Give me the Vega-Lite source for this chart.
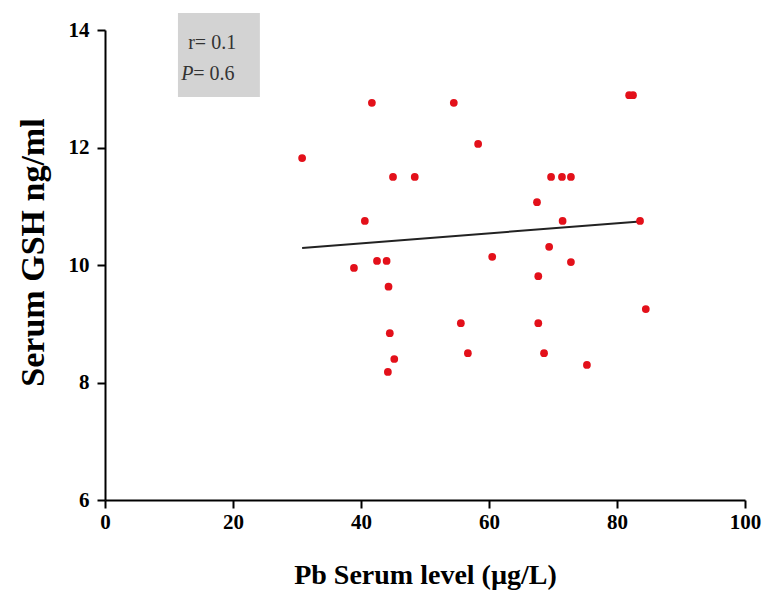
{
  "$schema": "https://vega.github.io/schema/vega-lite/v6.json",
  "autosize": {"type": "none"},
  "width": 640,
  "height": 470,
  "padding": {"left": 105, "top": 30, "right": 23, "bottom": 98},
  "background": "white",
  "config": {"view": {"stroke": null}, "font": "Liberation Serif"},
  "datasets": {
    "pts": [
      {"pb": 41.7, "gsh": 12.76},
      {"pb": 54.5, "gsh": 12.76},
      {"pb": 58.3, "gsh": 12.06},
      {"pb": 30.8, "gsh": 11.82},
      {"pb": 45.0, "gsh": 11.5},
      {"pb": 48.4, "gsh": 11.5},
      {"pb": 40.6, "gsh": 10.75},
      {"pb": 38.9, "gsh": 9.95},
      {"pb": 42.5, "gsh": 10.07},
      {"pb": 44.0, "gsh": 10.07},
      {"pb": 60.5, "gsh": 10.14},
      {"pb": 44.3, "gsh": 9.63},
      {"pb": 55.6, "gsh": 9.01},
      {"pb": 44.5, "gsh": 8.84},
      {"pb": 56.7, "gsh": 8.5},
      {"pb": 45.2, "gsh": 8.4},
      {"pb": 44.2, "gsh": 8.18},
      {"pb": 81.9, "gsh": 12.89},
      {"pb": 82.5, "gsh": 12.89},
      {"pb": 69.7, "gsh": 11.5},
      {"pb": 71.4, "gsh": 11.5},
      {"pb": 72.8, "gsh": 11.5},
      {"pb": 67.5, "gsh": 11.07},
      {"pb": 71.5, "gsh": 10.75},
      {"pb": 83.6, "gsh": 10.75},
      {"pb": 69.4, "gsh": 10.31},
      {"pb": 72.8, "gsh": 10.05},
      {"pb": 67.7, "gsh": 9.81},
      {"pb": 84.5, "gsh": 9.25},
      {"pb": 67.7, "gsh": 9.01},
      {"pb": 68.6, "gsh": 8.5},
      {"pb": 75.3, "gsh": 8.3}
    ],
    "fit": [
      {"pb": 30.8, "gsh": 10.29},
      {"pb": 83.6, "gsh": 10.74}
    ],
    "box": [{"x1": 11.4, "x2": 24.2, "y1": 12.86, "y2": 14.29}],
    "plain": [
      {"x": 13.0, "y": 13.78, "t": "r= 0.1"},
      {"x": 13.8, "y": 13.25, "t": "= 0.6"}
    ],
    "ital": [
      {"x": 11.9, "y": 13.25, "t": "P"}
    ]
  },
  "layer": [
    {
      "data": {"name": "box"},
      "mark": {"type": "rect", "color": "#d3d3d3", "clip": false},
      "encoding": {
        "x": {"field": "x1", "type": "quantitative", "scale": {"domain": [0, 100], "nice": false}},
        "x2": {"field": "x2"},
        "y": {"field": "y1", "type": "quantitative", "scale": {"domain": [6, 14], "nice": false}},
        "y2": {"field": "y2"}
      }
    },
    {
      "data": {"name": "plain"},
      "mark": {"type": "text", "align": "left", "baseline": "middle", "fontSize": 20, "color": "#333333", "font": "Liberation Serif", "clip": false},
      "encoding": {
        "x": {"field": "x", "type": "quantitative"},
        "y": {"field": "y", "type": "quantitative"},
        "text": {"field": "t"}
      }
    },
    {
      "data": {"name": "ital"},
      "mark": {"type": "text", "align": "left", "baseline": "middle", "fontSize": 20, "fontStyle": "italic", "color": "#333333", "font": "Liberation Serif", "clip": false},
      "encoding": {
        "x": {"field": "x", "type": "quantitative"},
        "y": {"field": "y", "type": "quantitative"},
        "text": {"field": "t"}
      }
    },
    {
      "data": {"name": "fit"},
      "mark": {"type": "line", "color": "#222222", "strokeWidth": 2},
      "encoding": {
        "x": {"field": "pb", "type": "quantitative"},
        "y": {"field": "gsh", "type": "quantitative"}
      }
    },
    {
      "data": {"name": "pts"},
      "mark": {"type": "circle", "color": "#e3101a", "opacity": 1, "size": 60},
      "encoding": {
        "x": {
          "field": "pb", "type": "quantitative",
          "scale": {"domain": [0, 100], "nice": false},
          "axis": {
            "title": "Pb Serum level (µg/L)",
            "values": [0, 20, 40, 60, 80, 100],
            "format": "d",
            "grid": false,
            "domainColor": "#000000", "domainWidth": 2,
            "tickColor": "#000000", "tickWidth": 2, "tickSize": 8,
            "labelFont": "Liberation Serif", "labelFontSize": 21, "labelFontWeight": "bold", "labelColor": "#000000",
            "labelPadding": 3, "labelFlush": false,
            "titleFont": "Liberation Serif", "titleFontSize": 28, "titleFontWeight": "bold", "titleColor": "#000000",
            "titlePadding": 29
          }
        },
        "y": {
          "field": "gsh", "type": "quantitative",
          "scale": {"domain": [6, 14], "nice": false},
          "axis": {
            "title": "Serum GSH ng/ml",
            "values": [6, 8, 10, 12, 14],
            "format": "d",
            "grid": false,
            "domainColor": "#000000", "domainWidth": 2,
            "tickColor": "#000000", "tickWidth": 2, "tickSize": 8,
            "labelFont": "Liberation Serif", "labelFontSize": 21, "labelFontWeight": "bold", "labelColor": "#000000",
            "labelPadding": 8, "labelFlush": false,
            "titleFont": "Liberation Serif", "titleFontSize": 34, "titleFontWeight": "bold", "titleColor": "#000000",
            "titlePadding": 18,
            "titleY": 222
          }
        }
      }
    }
  ]
}
